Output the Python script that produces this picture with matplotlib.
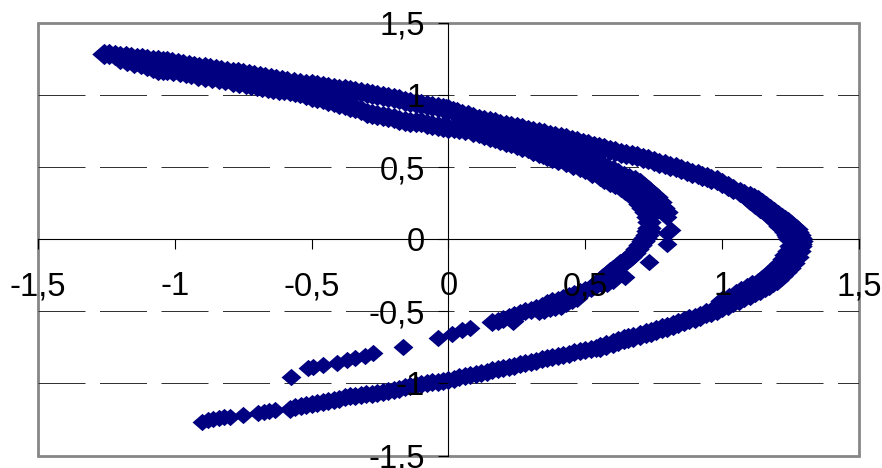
import matplotlib
matplotlib.use("Agg")
import matplotlib.pyplot as plt
from matplotlib.patches import Rectangle

# outer curve, upper arm as far as the nose (two passes)
outer_x = [-1.26, -1.22, -1.18, -1.14, -1.10, -1.06, -1.03, -0.99, -0.95, -0.91, -0.87, -0.83, -0.787,
           -0.75, -0.71, -0.67, -0.63, -0.59, -0.543, -0.50, -0.46, -0.42, -0.38, -0.34, -0.298,
           -0.26, -0.22, -0.18, -0.14, -0.10, -0.06, -0.02, 0.0, 0.03, 0.07, 0.11, 0.15, 0.19, 0.23,
           0.27, 0.31, 0.35, 0.39, 0.43, 0.47, 0.51, 0.55, 0.59, 0.63, 0.67, 0.71, 0.75, 0.79, 0.83,
           0.87, 0.91, 0.944, 0.98, 1.02, 1.065, 1.10, 1.13, 1.16, 1.19, 1.22, 1.24, 1.26, 1.275,
           1.285, 1.285]
outer_y = [1.288, 1.278, 1.269, 1.259, 1.25, 1.24, 1.233, 1.221, 1.21, 1.198, 1.187, 1.175, 1.163,
           1.151, 1.139, 1.126, 1.113, 1.10, 1.086, 1.074, 1.063, 1.05, 1.04, 1.028, 1.017,
           1.0, 0.985, 0.97, 0.95, 0.94, 0.925, 0.908, 0.90, 0.885, 0.86, 0.835, 0.82, 0.80, 0.785,
           0.77, 0.75, 0.735, 0.715, 0.70, 0.68, 0.66, 0.64, 0.62, 0.60, 0.585, 0.565, 0.545, 0.52, 0.50,
           0.47, 0.45, 0.433, 0.41, 0.37, 0.33, 0.30, 0.27, 0.23, 0.19, 0.15, 0.12, 0.085, 0.05,
           0.01, -0.03]
outer2_x = [-1.24, -1.20, -1.16, -1.12, -1.08, -1.045, -1.01, -0.97, -0.93, -0.89, -0.85, -0.81, -0.77,
            -0.73, -0.69, -0.65, -0.61, -0.565, -0.52, -0.48, -0.44, -0.40, -0.36, -0.32, -0.28,
            -0.24, -0.20, -0.16, -0.12, -0.08, -0.04, -0.01, 0.015, 0.05, 0.09, 0.13, 0.17, 0.21, 0.25,
            0.29, 0.33, 0.37, 0.41, 0.45, 0.49, 0.53, 0.57, 0.61, 0.65, 0.69, 0.73, 0.77, 0.81, 0.85,
            0.89, 0.925, 0.96, 1.0, 1.04, 1.08, 1.115, 1.145, 1.175, 1.205, 1.23, 1.25, 1.268, 1.28, 1.287]
outer2_y = [1.283, 1.273, 1.264, 1.254, 1.245, 1.236, 1.227, 1.215, 1.204, 1.192, 1.181, 1.169, 1.157,
            1.145, 1.132, 1.12, 1.106, 1.093, 1.08, 1.068, 1.056, 1.045, 1.034, 1.022, 1.008,
            0.992, 0.977, 0.96, 0.945, 0.932, 0.916, 0.904, 0.892, 0.872, 0.848, 0.827, 0.81, 0.792, 0.777,
            0.76, 0.742, 0.725, 0.707, 0.69, 0.67, 0.65, 0.63, 0.61, 0.592, 0.575, 0.555, 0.532, 0.51, 0.485,
            0.46, 0.441, 0.42, 0.39, 0.35, 0.315, 0.285, 0.25, 0.21, 0.17, 0.135, 0.10, 0.068, 0.03, -0.01]

# below the nose, outer edge of the band
tail_x = [1.285, 1.28, 1.272, 1.26, 1.245, 1.23, 1.215, 1.20, 1.185, 1.17, 1.155, 1.138, 1.12, 1.10, 1.08,
          1.06, 1.04, 1.02, 1.0, 0.98, 0.96, 0.94, 0.918, 0.90, 0.88, 0.86, 0.84, 0.82, 0.797, 0.78, 0.76,
          0.74, 0.72, 0.70, 0.674, 0.655, 0.64, 0.62, 0.60, 0.575, 0.553]
tail_y = [-0.05, -0.08, -0.125, -0.165, -0.2, -0.23, -0.255, -0.28, -0.298, -0.315, -0.332, -0.35, -0.368,
          -0.385, -0.403, -0.42, -0.438, -0.455, -0.473, -0.49, -0.503, -0.515, -0.53, -0.543, -0.555, -0.568,
          -0.58, -0.592, -0.607, -0.618, -0.63, -0.64, -0.65, -0.662, -0.675, -0.685, -0.695, -0.707, -0.72,
          -0.733, -0.746]

# second trace on the inside of the nose
nose_x = [1.10, 1.12, 1.14, 1.155, 1.17, 1.185, 1.20, 1.213, 1.225, 1.233, 1.24, 1.245, 1.248, 1.25, 1.245,
          1.235, 1.225, 1.215, 1.203, 1.19, 1.175, 1.16, 1.145, 1.13, 1.11, 1.09, 1.07, 1.05, 1.025, 1.0]
nose_y = [0.27, 0.245, 0.22, 0.195, 0.17, 0.145, 0.12, 0.095, 0.07, 0.05, 0.03, 0.015, 0.0, -0.05, -0.08,
          -0.11, -0.138, -0.165, -0.188, -0.21, -0.235, -0.26, -0.28, -0.30, -0.32, -0.34, -0.36, -0.38,
          -0.405, -0.43]

# long lower arm, two small groups and then the solid part
lower_start_x = [-0.90, -0.88, -0.86, -0.84, -0.82, -0.80, -0.75, -0.695, -0.675, -0.655, -0.635]
lower_start_y = [-1.267, -1.255, -1.247, -1.24, -1.235, -1.23, -1.22, -1.203, -1.197, -1.19, -1.183]
lower_x = [-0.58, -0.56, -0.54, -0.52, -0.50, -0.48, -0.46, -0.44, -0.42, -0.40, -0.38, -0.36, -0.34, -0.32,
           -0.30, -0.28, -0.26, -0.24, -0.22, -0.20, -0.18, -0.16, -0.14, -0.12, -0.10, -0.08, -0.06, -0.04,
           -0.02, 0.0, 0.02, 0.04, 0.06, 0.08, 0.10, 0.12, 0.14, 0.16, 0.18, 0.20, 0.22, 0.24, 0.26, 0.28,
           0.30, 0.32, 0.34, 0.36, 0.38, 0.40, 0.42, 0.44, 0.46, 0.48, 0.50, 0.52, 0.54]
lower_y = [-1.175, -1.165, -1.157, -1.15, -1.141, -1.135, -1.128, -1.122, -1.115, -1.105, -1.097, -1.09, -1.085,
           -1.08, -1.075, -1.07, -1.065, -1.058, -1.05, -1.043, -1.036, -1.028, -1.02, -1.012, -1.005, -0.998,
           -0.992, -0.987, -0.982, -0.976, -0.967, -0.958, -0.95, -0.943, -0.934, -0.926, -0.918, -0.91, -0.902,
           -0.893, -0.885, -0.876, -0.868, -0.86, -0.851, -0.843, -0.834, -0.826, -0.817, -0.809, -0.801, -0.793,
           -0.785, -0.776, -0.768, -0.76, -0.751]

# inner curve, from the left tip round to the short lower arm (two passes)
inner_x = [-1.20, -1.15, -1.10, -1.06, -1.03, -0.98, -0.94, -0.89, -0.84, -0.787, -0.74, -0.70, -0.66,
           -0.62, -0.58, -0.543, -0.50, -0.46, -0.42, -0.38, -0.34, -0.298, -0.26, -0.22, -0.18, -0.14,
           -0.10, -0.06, -0.02, 0.02, 0.09, 0.13, 0.17, 0.21, 0.25, 0.29, 0.33, 0.36, 0.40, 0.456, 0.50,
           0.553, 0.59, 0.63, 0.663, 0.69, 0.71, 0.73, 0.733, 0.725, 0.71, 0.69, 0.663, 0.64, 0.615,
           0.59, 0.565, 0.54]
inner_y = [1.25, 1.225, 1.205, 1.175, 1.177, 1.16, 1.145, 1.125, 1.11, 1.094, 1.08, 1.065, 1.05,
           1.035, 1.03, 1.017, 0.985, 0.975, 0.95, 0.93, 0.91, 0.878, 0.86, 0.85, 0.83, 0.815,
           0.81, 0.795, 0.78, 0.77, 0.747, 0.725, 0.70, 0.678, 0.655, 0.63, 0.60, 0.575, 0.55, 0.517, 0.485,
           0.436, 0.40, 0.36, 0.32, 0.27, 0.22, 0.157, 0.08, 0.03, -0.015, -0.07, -0.12, -0.155, -0.19,
           -0.23, -0.27, -0.31]
inner2_x = [-1.175, -1.125, -1.08, -1.045, -1.005, -0.96, -0.915, -0.865, -0.815, -0.765, -0.72, -0.68, -0.64,
            -0.60, -0.56, -0.52, -0.48, -0.44, -0.40, -0.36, -0.32, -0.28, -0.24, -0.20, -0.16, -0.12, -0.08,
            -0.04, 0.0, 0.04, 0.06, 0.11, 0.15, 0.19, 0.23, 0.27, 0.31, 0.345, 0.38, 0.43, 0.48, 0.525, 0.57,
            0.61, 0.645, 0.68, 0.70, 0.72, 0.732, 0.73, 0.718, 0.70, 0.677, 0.652, 0.627, 0.60, 0.578]
inner2_y = [1.237, 1.215, 1.19, 1.176, 1.168, 1.152, 1.135, 1.118, 1.102, 1.087, 1.072, 1.057, 1.042,
            1.032, 1.024, 1.0, 0.98, 0.962, 0.94, 0.92, 0.895, 0.869, 0.855, 0.84, 0.822, 0.812, 0.802,
            0.787, 0.775, 0.765, 0.757, 0.736, 0.712, 0.69, 0.667, 0.642, 0.615, 0.588, 0.562, 0.533, 0.50,
            0.46, 0.42, 0.38, 0.34, 0.295, 0.245, 0.19, 0.12, 0.055, 0.008, -0.042, -0.095, -0.138, -0.172,
            -0.21, -0.25]

# middle curve which splits off, and the separate points it ends in
middle_x = [0.25, 0.275, 0.30, 0.325, 0.35, 0.375, 0.40, 0.425, 0.45, 0.475, 0.50, 0.52, 0.54, 0.56, 0.578, 0.60,
            0.62, 0.64, 0.66, 0.68, 0.70, 0.715, 0.73, 0.745, 0.76, 0.772, 0.785, 0.793]
middle_y = [0.72, 0.71, 0.70, 0.68, 0.66, 0.645, 0.63, 0.615, 0.60, 0.585, 0.57, 0.553, 0.535, 0.516, 0.497, 0.478,
            0.46, 0.442, 0.425, 0.408, 0.39, 0.365, 0.34, 0.315, 0.29, 0.255, 0.22, 0.19]
middle_end_x = [0.80, 0.813, 0.80, 0.797, 0.733, 0.644]
middle_end_y = [0.157, 0.066, 0.04, -0.03, -0.155, -0.26]

# short lower arm: separate groups, then the solid part
short_start_x = [-0.576, -0.513, -0.495, -0.458, -0.408, -0.37, -0.342, -0.305, -0.275, -0.166, -0.038, 0.012,
                 0.05, 0.078]
short_start_y = [-0.955, -0.892, -0.885, -0.872, -0.857, -0.837, -0.825, -0.81, -0.79, -0.744, -0.683, -0.656,
                 -0.628, -0.617]
short_x = [0.16, 0.18, 0.20, 0.22, 0.237, 0.24, 0.26, 0.28, 0.30, 0.32, 0.33, 0.34, 0.35, 0.36,
           0.37, 0.38, 0.39, 0.40, 0.41, 0.42, 0.43, 0.44, 0.45, 0.46, 0.47, 0.48, 0.50, 0.52, 0.56, 0.58, 0.60]
short_y = [-0.575, -0.565, -0.55, -0.54, -0.57, -0.525, -0.51, -0.50, -0.49, -0.475, -0.50,
           -0.465, -0.49, -0.44, -0.48, -0.43, -0.47, -0.42, -0.46, -0.405, -0.44, -0.395, -0.42, -0.38, -0.41,
           -0.365, -0.35, -0.34, -0.31, -0.30, -0.285]

tick_values = [-1.5, -1, -0.5, 0, 0.5, 1, 1.5]
tick_labels = ["-1,5", "-1", "-0,5", "0", "0,5", "1", "1,5"]
grid_levels = [-1, -0.5, 0.5, 1]

fig = plt.figure(figsize=(8.82, 4.68), dpi=100)
ax = fig.add_axes([38 / 882, (468 - 455.5) / 468, (859 - 38) / 882, (455.5 - 23) / 468])

# excel diamond is a little wider than tall
diamond = [(-1, 0), (0, 0.87), (1, 0), (0, -0.87), (-1, 0)]

# sparse typed points leave scallops, so the solid bands get a larger marker
wide_bands = [(outer_x, outer_y), (outer2_x, outer2_y), (tail_x, tail_y), (nose_x, nose_y),
              (inner_x, inner_y), (inner2_x, inner2_y), (middle_x, middle_y)]
thin_bands = [(lower_x, lower_y), (short_x, short_y)]
single_points = [(lower_start_x, lower_start_y), (middle_end_x, middle_end_y), (short_start_x, short_start_y)]
for xs, ys in wide_bands:
    ax.scatter(xs, ys, marker=diamond, s=310, color="#000080", linewidths=0, zorder=1, clip_on=False)
for xs, ys in thin_bands:
    ax.scatter(xs, ys, marker=diamond, s=250, color="#000080", linewidths=0, zorder=1, clip_on=False)
for xs, ys in single_points:
    ax.scatter(xs, ys, marker=diamond, s=205, color="#000080", linewidths=0, zorder=1, clip_on=False)

for level in grid_levels:
    ax.axhline(level, color="#333333", lw=0.72, dashes=(47, 14.5), zorder=0.5)

ax.set_xlim(-1.5, 1.5)
ax.set_ylim(-1.5, 1.5)

# zero-crossing black axes, grey frame around the plot area
for side in ["top", "right"]:
    ax.spines[side].set_visible(False)
for side in ["left", "bottom"]:
    ax.spines[side].set_position(("data", 0))
    ax.spines[side].set_color("black")
    ax.spines[side].set_linewidth(0.8)
    ax.spines[side].set_zorder(0.6)
ax.add_patch(Rectangle((0, 0), 1, 1, transform=ax.transAxes, fill=False,
                       edgecolor="#868686", lw=2, clip_on=False, zorder=0.4))

ax.set_xticks(tick_values, tick_labels, fontsize=23.5, fontfamily="Liberation Sans")
ax.set_yticks(tick_values, tick_labels, fontsize=23.5, fontfamily="Liberation Sans")
ax.tick_params(axis="x", length=7, width=0.8, pad=16, color="black", labelcolor="black")
ax.tick_params(axis="y", length=7, width=0.8, pad=10, color="black", labelcolor="black")
ax.xaxis.set_zorder(3)
ax.yaxis.set_zorder(3)

fig.savefig("out.png", dpi=100)
